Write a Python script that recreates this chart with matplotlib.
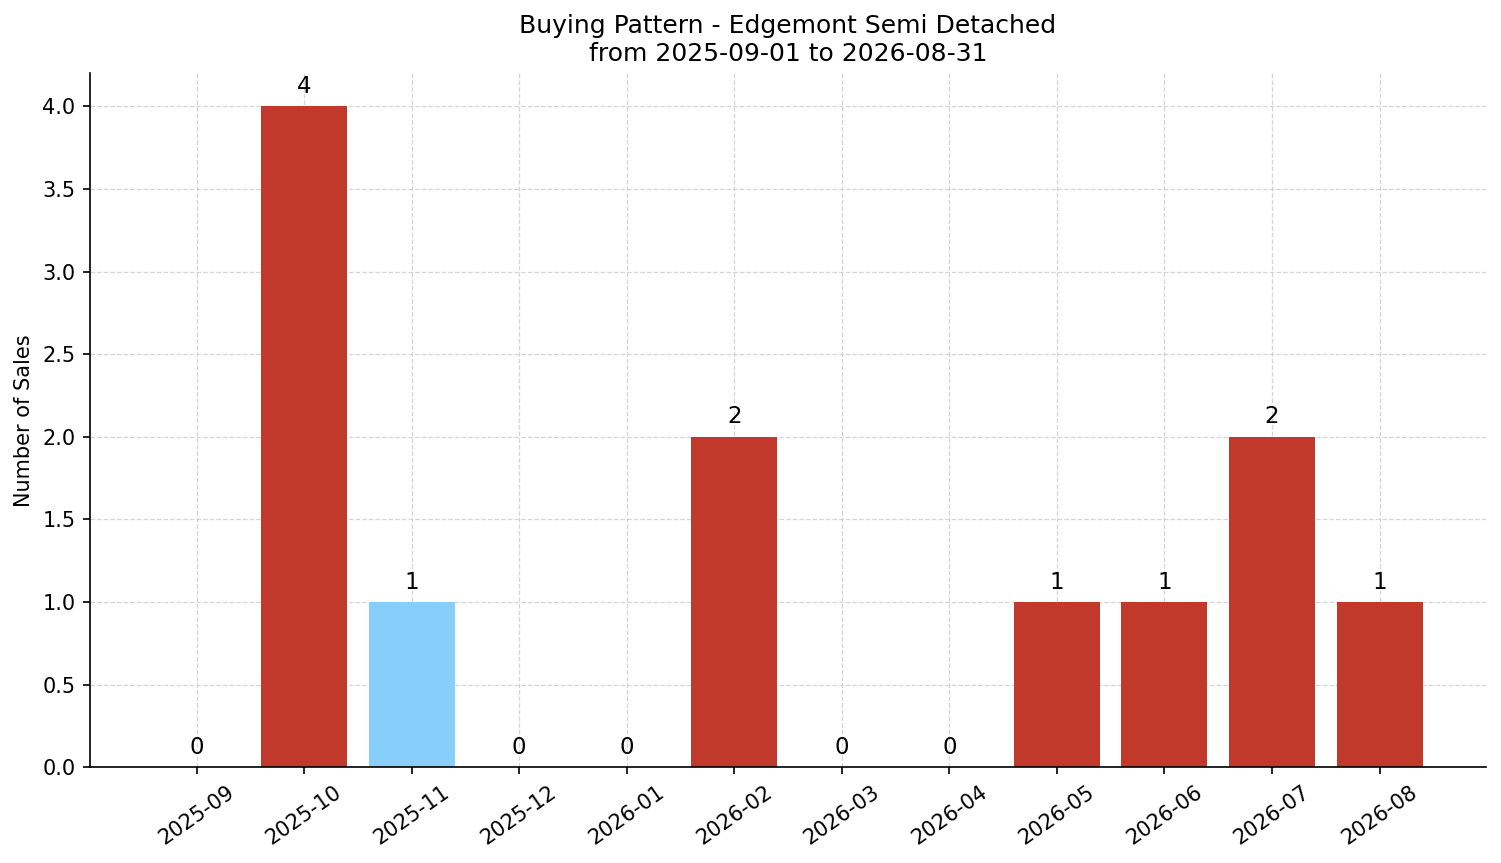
import matplotlib
matplotlib.use("Agg")
import matplotlib.pyplot as plt

months = ["2025-09", "2025-10", "2025-11", "2025-12", "2026-01", "2026-02",
          "2026-03", "2026-04", "2026-05", "2026-06", "2026-07", "2026-08"]
sales = [0, 4, 1, 0, 0, 2, 0, 0, 1, 1, 2, 1]
highlight = "2025-11"

red = "#c0392b"
blue = "#87cefa"
colors = [blue if m == highlight else red for m in months]

fig, ax = plt.subplots(figsize=(15.01 / 1.5, 8.63 / 1.5), dpi=150)
x = list(range(len(months)))
bars = ax.bar(x, sales, color=colors, width=0.8, zorder=2)
for xi, v in zip(x, sales):
    ax.annotate(str(v), (xi, v), xytext=(0, 4), textcoords="offset points",
                ha="center", va="bottom", fontsize=11)
ax.set_xticks(x)
ax.set_xticklabels(months, rotation=35, ha="center")
ax.set_ylabel("Number of Sales")
ax.set_title("Buying Pattern - Edgemont Semi Detached\nfrom 2025-09-01 to 2026-08-31", fontsize=12)
ax.grid(True, linestyle="--", color="#cccccc", alpha=0.8, linewidth=0.6, zorder=0)
ax.set_axisbelow(True)
ax.spines["top"].set_visible(False)
ax.spines["right"].set_visible(False)
ax.set_ylim(0, 4.2)
fig.subplots_adjust(left=0.06, right=0.99, top=0.915, bottom=0.111)
fig.savefig("out.png", dpi=150)
